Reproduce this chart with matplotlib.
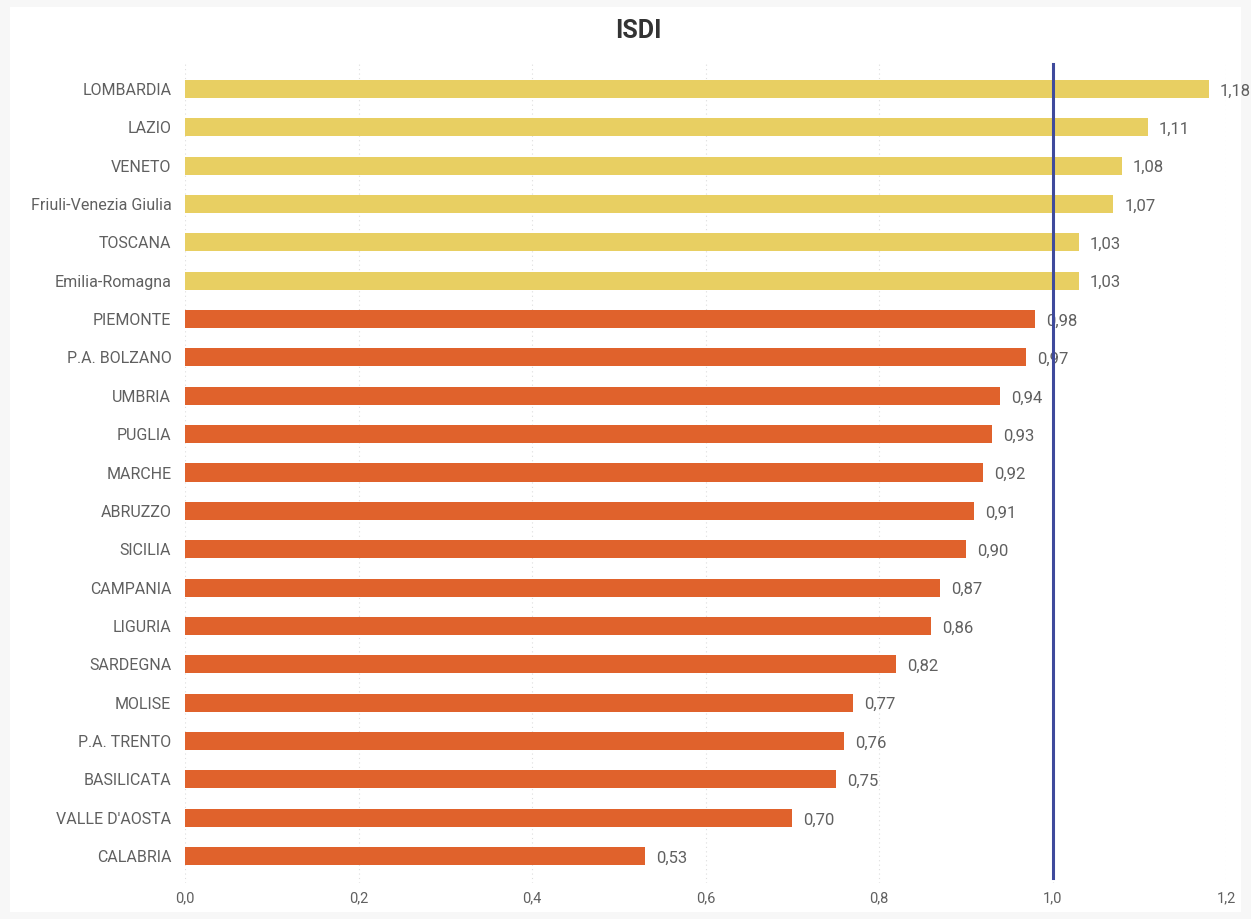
import matplotlib
matplotlib.use("Agg")
import matplotlib.pyplot as plt
from matplotlib import font_manager

regions = ["LOMBARDIA", "LAZIO", "VENETO", "Friuli-Venezia Giulia", "TOSCANA",
           "Emilia-Romagna", "PIEMONTE", "P.A. BOLZANO", "UMBRIA", "PUGLIA",
           "MARCHE", "ABRUZZO", "SICILIA", "CAMPANIA", "LIGURIA", "SARDEGNA",
           "MOLISE", "P.A. TRENTO", "BASILICATA", "VALLE D'AOSTA", "CALABRIA"]
values = [1.18, 1.11, 1.08, 1.07, 1.03, 1.03, 0.98, 0.97, 0.94, 0.93,
          0.92, 0.91, 0.90, 0.87, 0.86, 0.82, 0.77, 0.76, 0.75, 0.70, 0.53]
reference = 1.0
xticks = [0.0, 0.2, 0.4, 0.6, 0.8, 1.0, 1.2]

names = {f.name for f in font_manager.fontManager.ttflist}
fam = "Liberation Sans Narrow" if "Liberation Sans Narrow" in names else "Roboto"
plt.rcParams['font.family'] = [fam, 'DejaVu Sans']

YELLOW = "#E8CF62"
ORANGE = "#E0622C"
TXT = "#606060"

fig = plt.figure(figsize=(12.51, 9.19), dpi=100)
fig.patch.set_facecolor("#f7f7f7")
bg = fig.add_axes([0.008, 0.008, 0.984, 0.984])
bg.set_facecolor("white")
bg.set_xticks([]); bg.set_yticks([])
for s in bg.spines.values():
    s.set_visible(False)

ax = fig.add_axes([0.148, 0.0392, 0.832, 0.8933])
ax.set_facecolor("none")
n = len(regions)
ypos = list(range(n))
colors = [YELLOW if v > reference else ORANGE for v in values]
ax.barh(ypos, values, height=0.47, color=colors, zorder=2)
ax.set_ylim(n - 1 + 0.7, -0.7)
ax.set_xlim(0, 1.2)
ax.set_yticks(ypos)
ax.set_yticklabels(regions, fontsize=11.5, color=TXT)
ax.set_xticks(xticks)
ax.set_xticklabels([f"{t:.1f}".replace(".", ",") for t in xticks], fontsize=10.5, color=TXT)
ax.tick_params(axis='y', length=0, pad=10)
ax.tick_params(axis='x', length=0, pad=6)
for s in ax.spines.values():
    s.set_visible(False)
ax.grid(axis='x', color="#dddddd", linestyle=(0, (1, 3)), linewidth=0.8, zorder=0)
for y, v in zip(ypos, values):
    ax.annotate(f"{v:.2f}".replace(".", ","), (v, y), xytext=(8, -1.5),
                textcoords="offset points", va="center", ha="left",
                fontsize=12, color=TXT, zorder=3, annotation_clip=False)
ax.axvline(reference, color="#3F4A9C", linewidth=2.2, zorder=4,
           ymin=0.006, ymax=0.998)
fig.text(0.51, 0.966, "ISDI", ha="center", va="center", fontsize=18,
         fontweight="bold", color="#333333")
fig.savefig("out.png", dpi=100, facecolor=fig.get_facecolor())
